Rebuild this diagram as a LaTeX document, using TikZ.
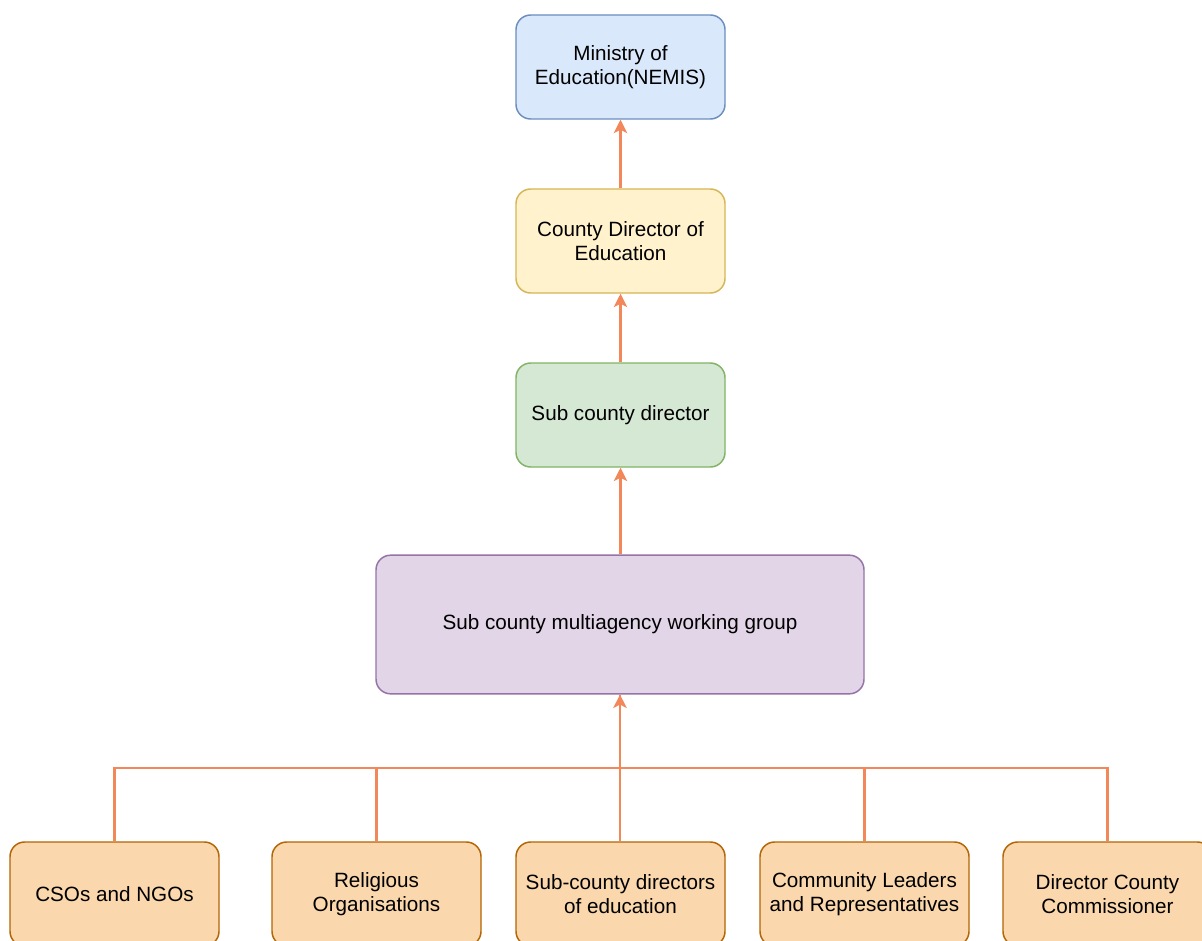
\documentclass[tikz,border=0pt]{standalone}
\usepackage{fontspec}
\setmainfont{Liberation Sans}
\usetikzlibrary{arrows.meta}
\definecolor{blueF}{HTML}{DAE8FC}\definecolor{blueD}{HTML}{6C8EBF}
\definecolor{yelF}{HTML}{FFF2CC}\definecolor{yelD}{HTML}{D6B656}
\definecolor{grnF}{HTML}{D5E8D4}\definecolor{grnD}{HTML}{82B366}
\definecolor{purF}{HTML}{E1D5E7}\definecolor{purD}{HTML}{9673A6}
\definecolor{orF}{HTML}{FAD7AC}\definecolor{orD}{HTML}{B46504}
\definecolor{conC}{HTML}{F2875A}
\tikzset{
  box/.style={draw, line width=1.1pt, rounded corners=11pt, align=center, inner sep=0pt,
    minimum width=156.75pt, minimum height=78pt, font=\fontsize{15.5}{18.5}\selectfont},
  line/.style={draw=conC, line width=1.7pt},
  conn/.style={line, -{Stealth[length=10pt,width=10pt,inset=2.5pt]}},
}
\begin{document}
\begin{tikzpicture}[x=0.75pt,y=-0.75pt]
\clip (0,0) rectangle (1202,941);
\fill[white] (0,0) rectangle (1202,941);
\node[box, fill=blueF, draw=blueD] (moe) at (620.5,67) {Ministry of\\Education(NEMIS)};
\node[box, fill=yelF, draw=yelD] (cde) at (620.5,241) {County Director of\\Education};
\node[box, fill=grnF, draw=grnD] (scd) at (620.5,415) {Sub county director};
\node[box, fill=purF, draw=purD, minimum width=366pt, minimum height=104pt] (mag) at (620,624.5) {Sub county multiagency working group};
\node[box, fill=orF, draw=orD] (cso) at (114.5,894) {CSOs and NGOs};
\node[box, fill=orF, draw=orD] (rel) at (376.5,894) {Religious\\Organisations};
\node[box, fill=orF, draw=orD] (sde) at (620.5,894) {Sub-county directors\\of education};
\node[box, fill=orF, draw=orD] (com) at (864.5,894) {Community Leaders\\and Representatives};
\node[box, fill=orF, draw=orD] (dcc) at (1107.5,894) {Director County\\Commissioner};
\coordinate (bus) at (620,768);
\draw[conn] (cde) -- (moe);
\draw[conn] (scd) -- (cde);
\draw[conn] (mag.north -| scd) -- (scd);
\draw[line] (cso.north) -- (cso.north |- bus) -| (mag.south);
\draw[line] (rel.north) -- (rel.north |- bus) -| (mag.south);
\draw[line] (com.north) -- (com.north |- bus) -| (mag.south);
\draw[line] (dcc.north) -- (dcc.north |- bus) -| (mag.south);
\draw[conn] (sde.north -| mag.south) -- (mag.south);
\end{tikzpicture}
\end{document}
